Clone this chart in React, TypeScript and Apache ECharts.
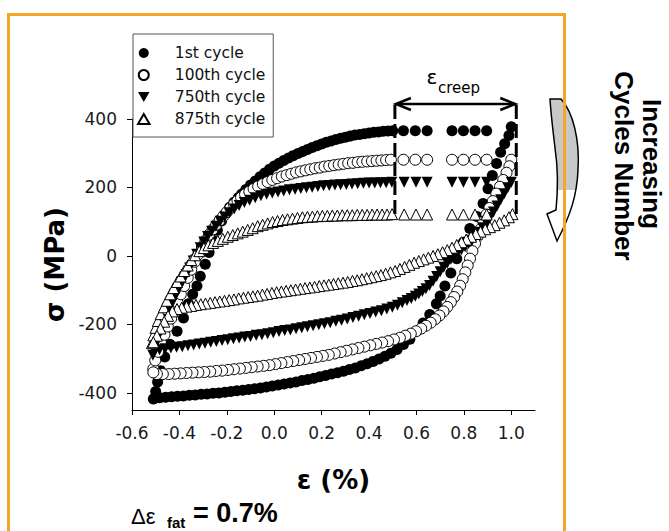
import React, { useEffect, useRef } from 'react';
import * as echarts from 'echarts';

// ---------- data ----------
const seriesNames = ['1st cycle', '100th cycle', '750th cycle', '875th cycle'];
const xTicks = [-0.6, -0.4, -0.2, 0, 0.2, 0.4, 0.6, 0.8, 1.0];
const yTicks = [-400, -200, 0, 200, 400];

// 1st cycle (filled circles)
const c1Load = [[-0.510,-418],[-0.500,-396],[-0.492,-368],[-0.480,-335],[-0.462,-295],[-0.440,-258],[-0.410,-220],[-0.383,-181],[-0.362,-140],[-0.344,-112],[-0.326,-88],[-0.312,-59],[-0.291,-24],[-0.275,10],[-0.257,45],[-0.240,75],[-0.222,102],[-0.205,125],[-0.188,142],[-0.170,157],[-0.152,170],[-0.137,181],[-0.120,194],[-0.100,207],[-0.080,219],[-0.060,231],[-0.040,242],[-0.020,253],[0.000,263],[0.020,271],[0.040,279],[0.060,286],[0.080,293],[0.100,299],[0.120,305],[0.140,311],[0.160,317],[0.180,322],[0.200,327],[0.220,332],[0.240,336],[0.260,340],[0.280,344],[0.300,347],[0.320,350],[0.340,353],[0.360,355],[0.380,357],[0.400,359],[0.420,361],[0.440,362],[0.460,364],[0.480,365],[0.500,366]];
const c1Dwell = [[0.545,366],[0.595,366],[0.645,366],[0.750,366],[0.798,366],[0.847,366],[0.896,366]];
const c1Unload = [[1.000,377],[0.990,352],[0.972,328],[0.955,303],[0.938,270],[0.920,235],[0.902,196],[0.881,153],[0.855,115],[0.825,80],[0.798,40],[0.770,-8],[0.745,-50],[0.720,-88],[0.700,-117],[0.684,-140],[0.656,-171],[0.628,-196],[0.600,-220],[0.572,-243],[0.545,-259],[0.518,-273],[0.492,-284],[0.467,-293],[0.442,-301],[0.417,-308],[0.392,-315],[0.367,-321],[0.342,-327],[0.317,-332],[0.292,-337],[0.267,-341],[0.242,-345],[0.217,-349],[0.192,-353],[0.167,-357],[0.142,-361],[0.117,-364],[0.092,-368],[0.067,-371],[0.042,-374],[0.017,-377],[-0.008,-380],[-0.033,-383],[-0.058,-386],[-0.083,-388],[-0.108,-390],[-0.133,-392],[-0.158,-394],[-0.183,-396],[-0.208,-398],[-0.233,-400],[-0.258,-401],[-0.283,-403],[-0.308,-404],[-0.333,-406],[-0.358,-407],[-0.383,-409],[-0.408,-410],[-0.433,-411],[-0.458,-413],[-0.483,-414],[-0.505,-416]];

// 100th cycle (open circles)
const c2Load = [[-0.510,-330],[-0.502,-305],[-0.490,-280],[-0.477,-255],[-0.463,-230],[-0.449,-206],[-0.435,-183],[-0.422,-160],[-0.408,-136],[-0.394,-112],[-0.380,-88],[-0.365,-64],[-0.350,-40],[-0.335,-17],[-0.320,5],[-0.305,26],[-0.290,45],[-0.275,62],[-0.260,77],[-0.245,91],[-0.230,104],[-0.215,116],[-0.200,128],[-0.185,140],[-0.170,151],[-0.155,161],[-0.140,171],[-0.123,180],[-0.105,188],[-0.087,196],[-0.068,203],[-0.048,210],[-0.028,216],[-0.008,222],[0.012,227],[0.032,232],[0.052,236],[0.072,240],[0.092,244],[0.112,247],[0.132,250],[0.152,253],[0.172,256],[0.192,258],[0.212,261],[0.232,263],[0.252,265],[0.272,267],[0.292,269],[0.312,271],[0.332,272],[0.352,274],[0.372,275],[0.392,276],[0.412,277],[0.432,278],[0.452,279],[0.472,280],[0.492,281]];
const c2Dwell = [[0.545,281],[0.595,281],[0.645,281],[0.750,281],[0.798,281],[0.847,281],[0.896,281]];
const c2Unload = [[1.000,281],[0.992,262],[0.980,243],[0.966,222],[0.952,202],[0.937,182],[0.922,160],[0.908,140],[0.895,121],[0.882,100],[0.870,78],[0.858,57],[0.847,36],[0.836,14],[0.826,-8],[0.816,-28],[0.806,-48],[0.795,-68],[0.784,-87],[0.772,-104],[0.759,-120],[0.745,-135],[0.730,-149],[0.714,-162],[0.697,-174],[0.679,-185],[0.660,-195],[0.640,-204],[0.620,-212],[0.598,-220],[0.576,-227],[0.553,-233],[0.530,-239],[0.505,-244],[0.480,-249],[0.455,-253],[0.430,-257],[0.405,-261],[0.380,-265],[0.355,-269],[0.330,-273],[0.305,-277],[0.280,-281],[0.255,-285],[0.230,-289],[0.205,-292],[0.180,-295],[0.155,-298],[0.130,-301],[0.105,-304],[0.080,-307],[0.055,-310],[0.030,-313],[0.005,-316],[-0.020,-319],[-0.045,-321],[-0.070,-323],[-0.095,-325],[-0.120,-327],[-0.145,-329],[-0.170,-331],[-0.195,-333],[-0.220,-335],[-0.245,-336],[-0.270,-338],[-0.295,-339],[-0.320,-340],[-0.345,-341],[-0.370,-342],[-0.395,-343],[-0.420,-344],[-0.445,-345],[-0.470,-345],[-0.495,-345],[-0.510,-340]];

// 750th cycle (filled down-triangles)
const c3Load = [[-0.512,-290],[-0.502,-262],[-0.490,-236],[-0.476,-210],[-0.462,-186],[-0.447,-162],[-0.432,-140],[-0.417,-118],[-0.402,-96],[-0.387,-75],[-0.372,-55],[-0.357,-35],[-0.342,-15],[-0.327,5],[-0.312,24],[-0.297,41],[-0.281,57],[-0.264,72],[-0.246,87],[-0.228,101],[-0.209,114],[-0.189,126],[-0.169,137],[-0.148,147],[-0.126,156],[-0.104,163],[-0.080,170],[-0.056,176],[-0.032,180],[-0.008,184],[0.016,187],[0.040,190],[0.064,193],[0.088,195],[0.112,197],[0.136,199],[0.160,201],[0.184,203],[0.208,205],[0.232,206],[0.256,207],[0.280,208],[0.304,209],[0.328,210],[0.352,211],[0.376,212],[0.400,213],[0.424,213],[0.448,214],[0.472,214],[0.496,215]];
const c3Dwell = [[0.548,215],[0.598,215],[0.645,215],[0.750,215],[0.798,215],[0.847,215],[0.896,215]];
const c3Unload = [[1.000,215],[0.985,199],[0.970,182],[0.955,164],[0.940,146],[0.925,128],[0.910,112],[0.895,97],[0.880,82],[0.865,69],[0.850,57],[0.835,46],[0.820,36],[0.805,27],[0.790,18],[0.775,9],[0.760,0],[0.745,-10],[0.730,-21],[0.715,-33],[0.700,-46],[0.685,-60],[0.670,-74],[0.655,-86],[0.640,-96],[0.625,-104],[0.610,-111],[0.595,-118],[0.578,-124],[0.560,-130],[0.540,-137],[0.520,-144],[0.498,-150],[0.475,-155],[0.452,-160],[0.428,-164],[0.404,-168],[0.380,-172],[0.356,-176],[0.332,-180],[0.308,-184],[0.284,-188],[0.260,-191],[0.236,-195],[0.212,-198],[0.188,-201],[0.164,-204],[0.140,-207],[0.116,-210],[0.092,-213],[0.068,-216],[0.044,-218],[0.020,-221],[-0.004,-224],[-0.028,-227],[-0.052,-230],[-0.076,-232],[-0.100,-235],[-0.124,-237],[-0.148,-240],[-0.172,-242],[-0.196,-245],[-0.220,-247],[-0.244,-250],[-0.268,-252],[-0.292,-255],[-0.316,-257],[-0.340,-260],[-0.364,-262],[-0.388,-265],[-0.412,-267],[-0.436,-269],[-0.460,-271],[-0.484,-274],[-0.505,-278]];

// 875th cycle (open up-triangles)
const c4Load = [[-0.516,-255],[-0.510,-232],[-0.501,-210],[-0.491,-190],[-0.479,-170],[-0.466,-150],[-0.453,-131],[-0.439,-112],[-0.425,-94],[-0.410,-76],[-0.395,-60],[-0.380,-44],[-0.365,-28],[-0.350,-12],[-0.334,2],[-0.316,14],[-0.297,23],[-0.278,31],[-0.258,38],[-0.238,44],[-0.217,50],[-0.196,56],[-0.175,61],[-0.154,66],[-0.133,71],[-0.112,76],[-0.091,81],[-0.070,87],[-0.049,91],[-0.028,95],[-0.007,99],[0.014,102],[0.035,105],[0.056,107],[0.077,109],[0.098,111],[0.119,113],[0.140,114],[0.161,115],[0.182,116],[0.203,117],[0.224,117],[0.245,118],[0.266,118],[0.287,119],[0.308,119],[0.329,119],[0.350,120],[0.371,120],[0.392,120],[0.413,121],[0.434,121],[0.455,121],[0.476,121],[0.497,122]];
const c4Dwell = [[0.548,121],[0.598,121],[0.645,121],[0.750,121],[0.798,121],[0.847,121],[0.896,121]];
const c4Unload = [[1.005,122],[0.990,113],[0.970,104],[0.950,97],[0.930,90],[0.910,84],[0.890,78],[0.870,71],[0.850,64],[0.830,56],[0.810,48],[0.790,40],[0.770,32],[0.750,24],[0.730,17],[0.710,11],[0.690,5],[0.670,0],[0.650,-5],[0.630,-10],[0.610,-15],[0.590,-20],[0.570,-26],[0.550,-32],[0.530,-38],[0.510,-44],[0.490,-48],[0.470,-52],[0.450,-56],[0.430,-59],[0.410,-62],[0.390,-65],[0.370,-68],[0.350,-71],[0.330,-73],[0.310,-76],[0.290,-78],[0.270,-80],[0.250,-82],[0.230,-84],[0.210,-86],[0.190,-88],[0.170,-90],[0.150,-92],[0.130,-94],[0.110,-96],[0.090,-98],[0.070,-100],[0.050,-102],[0.030,-104],[0.010,-106],[-0.010,-108],[-0.030,-111],[-0.050,-113],[-0.070,-116],[-0.090,-118],[-0.110,-120],[-0.130,-122],[-0.150,-124],[-0.170,-127],[-0.190,-129],[-0.210,-131],[-0.230,-133],[-0.250,-135],[-0.270,-137],[-0.290,-139],[-0.310,-141],[-0.330,-143],[-0.350,-146],[-0.370,-148],[-0.390,-151],[-0.410,-155],[-0.430,-162],[-0.448,-175],[-0.464,-192],[-0.480,-212],[-0.495,-233],[-0.510,-252]];

// creep window annotation (strain range, lower stress of the dashed lines)
const creepStart = 0.509;
const creepEnd = 1.021;
const creepBottom = 112;

const ARROW_PATH =
  'M550 99 L561 99 C573 112 580 140 578 170 C577 196 570 216 557 241 L547 214 L556 210 C558 190 558 168 555 148 C553 130 551 116 550 99 Z';
echarts.graphic.registerShape('cycleArrow', echarts.graphic.extendPath(ARROW_PATH, {}));

const FONT = 'DejaVu Sans';
const ARIAL = 'Liberation Sans';

export default function App() {
  const ref = useRef<HTMLDivElement>(null);

  useEffect(() => {
    const el = ref.current;
    if (!el) return;
    const chart = echarts.init(el, null, { renderer: 'svg' });

    const open = { color: '#fff', borderColor: '#000', borderWidth: 1, opacity: 1 };
    const filled = { color: '#000', opacity: 1 };

    const option: any = {
      animation: false,
      backgroundColor: '#fff',
      grid: { left: 132, right: 134, top: 119, bottom: 121, containLabel: false },
      legend: {
        orient: 'vertical',
        left: 133,
        top: 34,
        padding: [11, 8, 10, 4],
        itemWidth: 52,
        itemHeight: 10,
        itemGap: 6,
        symbolKeepAspect: true,
        backgroundColor: '#fff',
        borderColor: '#555',
        borderWidth: 1,
        selectedMode: false,
        textStyle: { fontFamily: FONT, fontSize: 15.5, color: '#111', lineHeight: 16 },
        data: [
          { name: seriesNames[0], icon: 'circle' },
          { name: seriesNames[1], icon: 'circle' },
          { name: seriesNames[2], icon: 'path://M0,0L12,0L6,10.4Z' },
          { name: seriesNames[3], icon: 'path://M6,0L12,10.4L0,10.4Z' },
        ],
        z: 20,
      },
      xAxis: {
        type: 'value',
        min: -0.6,
        max: 1.1,
        axisLine: { show: true, onZero: false, lineStyle: { color: '#000', width: 1 } },
        axisTick: { show: true, length: 5, customValues: xTicks, lineStyle: { color: '#000' } },
        axisLabel: {
          customValues: xTicks,
          formatter: (v: number) => v.toFixed(1),
          fontFamily: FONT,
          fontSize: 17,
          color: '#1a1a1a',
          margin: 14,
        },
        splitLine: { show: false },
        name: 'ε (%)',
        nameLocation: 'middle',
        nameGap: 57,
        nameTextStyle: { fontFamily: FONT, fontWeight: 'bold', fontSize: 26, color: '#000' },
      },
      yAxis: {
        type: 'value',
        min: -450,
        max: 400,
        axisLine: { show: true, onZero: false, lineStyle: { color: '#000', width: 1 } },
        axisTick: { show: true, length: 5, customValues: yTicks, lineStyle: { color: '#000' } },
        axisLabel: {
          customValues: yTicks,
          fontFamily: FONT,
          fontSize: 17,
          color: '#1a1a1a',
          margin: 15,
        },
        splitLine: { show: false },
        name: 'σ (MPa)',
        nameLocation: 'middle',
        nameRotate: 90,
        nameGap: 64,
        nameTextStyle: { fontFamily: FONT, fontWeight: 'bold', fontSize: 26, color: '#000' },
      },
      series: [
        {
          name: seriesNames[0], type: 'scatter', symbol: 'circle', symbolSize: 11,
          itemStyle: filled, silent: true,
          data: [...c1Load, ...c1Dwell, ...c1Unload],
        },
        {
          name: seriesNames[1], type: 'scatter', symbol: 'circle', symbolSize: 11,
          itemStyle: open, silent: true,
          data: [...c2Load, ...c2Dwell, ...c2Unload],
        },
        {
          name: seriesNames[2], type: 'scatter', symbol: 'triangle', symbolRotate: 180, symbolSize: 11,
          itemStyle: filled, silent: true,
          data: [...c3Load, ...c3Dwell, ...c3Unload],
        },
        {
          name: seriesNames[3], type: 'scatter', symbol: 'triangle', symbolSize: 11,
          itemStyle: open, silent: true,
          data: [...c4Load, ...c4Dwell, ...c4Unload],
        },
      ],
    };
    chart.setOption(option);

    const px = (v: number) => chart.convertToPixel({ xAxisIndex: 0 }, v) as number;
    const py = (v: number) => chart.convertToPixel({ yAxisIndex: 0 }, v) as number;
    const x0 = px(creepStart);
    const x1 = px(creepEnd);
    const yb = py(creepBottom);
    const yTop = 105;
    const yArrow = 104;

    const graphic: any[] = [
      {
        type: 'rect', silent: true, z: 100,
        shape: { x: 8.5, y: 14.5, width: 556, height: 560 },
        style: { fill: 'none', stroke: '#F5A623', lineWidth: 3 },
      },
      {
        type: 'line', silent: true, z: 60,
        shape: { x1: x0, y1: yTop, x2: x0, y2: yb },
        style: { stroke: '#000', lineWidth: 3, lineDash: [14, 5] },
      },
      {
        type: 'line', silent: true, z: 60,
        shape: { x1: x1, y1: yTop, x2: x1, y2: yb },
        style: { stroke: '#000', lineWidth: 3, lineDash: [14, 5] },
      },
      {
        type: 'line', silent: true, z: 60,
        shape: { x1: x0 + 1, y1: yArrow, x2: x1 - 1, y2: yArrow },
        style: { stroke: '#000', lineWidth: 2.5 },
      },
      {
        type: 'polyline', silent: true, z: 60,
        shape: { points: [[x0 + 16, yArrow - 6], [x0 + 1, yArrow], [x0 + 16, yArrow + 6]] },
        style: { stroke: '#000', lineWidth: 2.5, fill: 'none' },
      },
      {
        type: 'polyline', silent: true, z: 60,
        shape: { points: [[x1 - 16, yArrow - 6], [x1 - 1, yArrow], [x1 - 16, yArrow + 6]] },
        style: { stroke: '#000', lineWidth: 2.5, fill: 'none' },
      },
      {
        type: 'text', silent: true, z: 60, x: 432, y: 77,
        style: { text: 'ε', fontFamily: FONT, fontSize: 20, fill: '#000', align: 'center', verticalAlign: 'middle' },
      },
      {
        type: 'text', silent: true, z: 60, x: 438, y: 88,
        style: { text: 'creep', fontFamily: FONT, fontSize: 15, fill: '#000', align: 'left', verticalAlign: 'middle' },
      },
      {
        type: 'cycleArrow', silent: true, z: 50, x: 0, y: 0,
        style: {
          fill: new echarts.graphic.LinearGradient(0, 0, 0, 1, [
            { offset: 0, color: '#c8c8c8' },
            { offset: 0.64, color: '#c8c8c8' },
            { offset: 0.64, color: '#ffffff' },
            { offset: 1, color: '#ffffff' },
          ]),
          stroke: '#000',
          lineWidth: 1.5,
        },
      },
      {
        type: 'text', silent: true, z: 60, x: 652, y: 164, rotation: -Math.PI / 2,
        style: { text: 'Increasing', fontFamily: ARIAL, fontWeight: 'bold', fontSize: 26, fill: '#000', align: 'center', verticalAlign: 'middle' },
      },
      {
        type: 'text', silent: true, z: 60, x: 624, y: 166, rotation: -Math.PI / 2,
        style: { text: 'Cycles Number', fontFamily: ARIAL, fontWeight: 'bold', fontSize: 26, fill: '#000', align: 'center', verticalAlign: 'middle' },
      },
      {
        type: 'text', silent: true, z: 60, x: 131, y: 516,
        style: { text: 'Δε', fontFamily: ARIAL, fontSize: 22, fill: '#000', align: 'left', verticalAlign: 'middle' },
      },
      {
        type: 'text', silent: true, z: 60, x: 167, y: 522,
        style: { text: 'fat', fontFamily: ARIAL, fontWeight: 'bold', fontSize: 15, fill: '#000', align: 'left', verticalAlign: 'middle' },
      },
      {
        type: 'text', silent: true, z: 60, x: 193, y: 513,
        style: { text: '= 0.7%', fontFamily: ARIAL, fontWeight: 'bold', fontSize: 27, fill: '#000', align: 'left', verticalAlign: 'middle' },
      },
    ];
    chart.setOption({ graphic });

    return () => {
      chart.dispose();
    };
  }, []);

  return (
    <div
      ref={ref}
      style={{ position: 'absolute', left: 0, top: 0, width: 669, height: 531, background: '#fff' }}
    />
  );
}
